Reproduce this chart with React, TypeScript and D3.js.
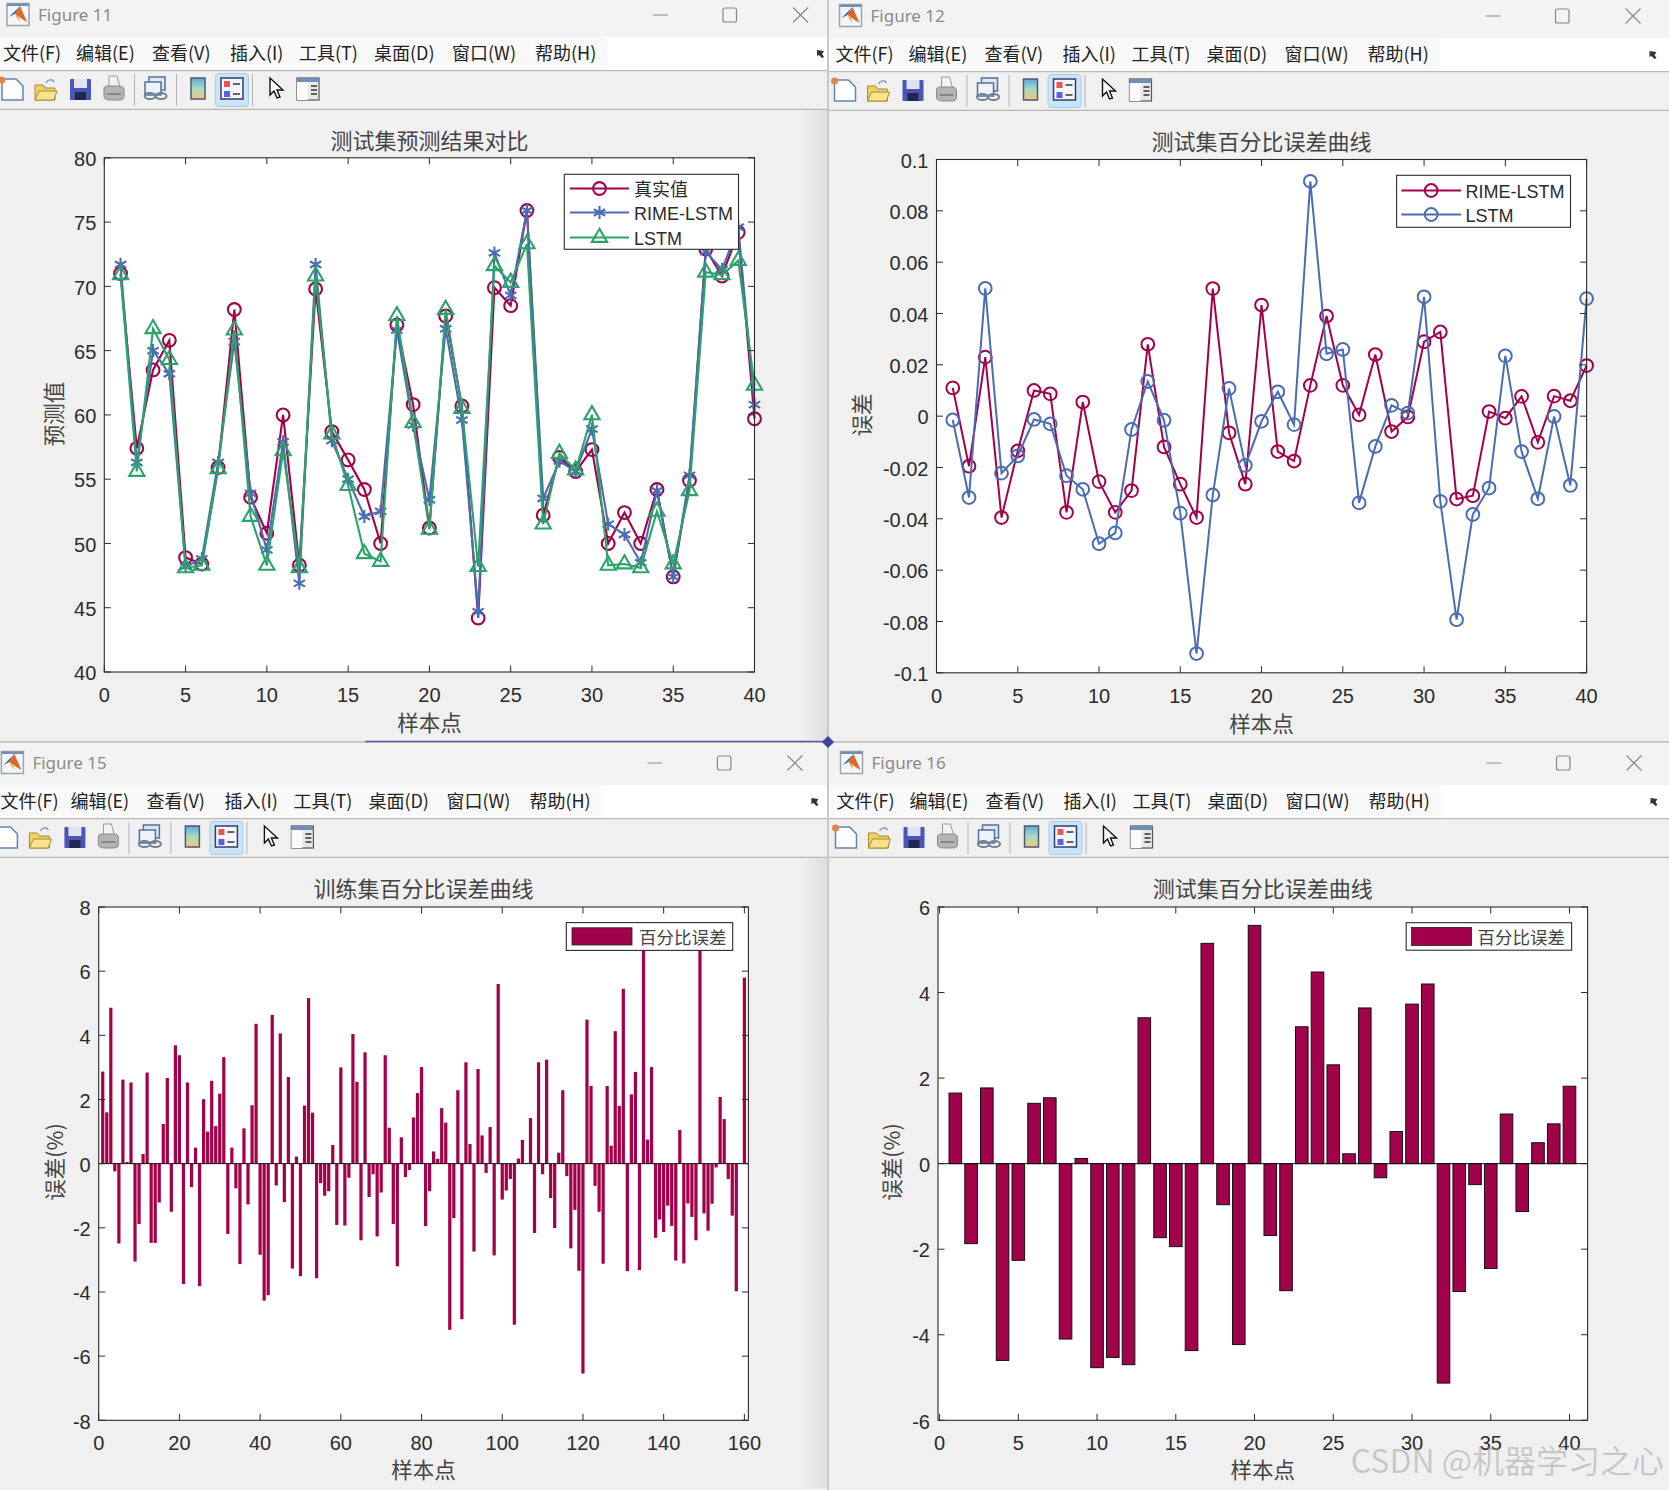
import * as d3 from "d3";

const SANS = "'Liberation Sans', Arial, sans-serif";
const CJK = "'Noto Sans CJK SC', 'Noto Sans', sans-serif";
const RED = "#a2024a";
const BLUE = "#4a6cb3";
const GREEN = "#2ba36b";
const INK = "#2b2b2b";

const MENU_LABELS = ["文件(F)", "编辑(E)", "查看(V)", "插入(I)", "工具(T)", "桌面(D)", "窗口(W)", "帮助(H)"];
const MENU_X = [3, 76, 152, 230, 299, 374, 452, 535];

// Figure 11
const sampleIds = d3.range(1, 41);
const trueValues = [71, 57.4, 63.5, 65.8, 48.9, 48.4, 55.9, 68.2, 53.6, 50.8, 60, 48.3, 69.8, 58.7, 56.5, 54.2, 50, 67, 60.8, 51.2, 67.7, 60.7, 44.2, 69.9, 68.5, 75.9, 52.2, 56.7, 55.6, 57.3, 50, 52.4, 50, 54.2, 47.4, 54.9, 72.9, 70.8, 74.2, 59.7];
const rimeValues = [71.7, 56.3, 65, 63.2, 48.2, 48.8, 56.3, 65.7, 53.9, 49.5, 57.9, 46.9, 71.7, 58, 55, 52.1, 52.5, 66.6, 59.2, 53.4, 66.7, 59.6, 44.7, 72.6, 69.3, 75.9, 53.5, 56.4, 55.6, 58.9, 51.5, 50.7, 48.5, 54.1, 47.4, 55.3, 72.7, 71.3, 74.6, 60.8];
const lstmValues = [70.9, 55.6, 66.7, 64.3, 48.1, 48.3, 55.8, 66.6, 52.1, 48.3, 57.2, 48.1, 70.8, 58.5, 54.5, 49.2, 48.6, 67.7, 59.4, 51.1, 68.2, 60.5, 48.2, 71.6, 70.3, 73.3, 51.5, 57, 55.7, 60, 48.3, 48.4, 48.1, 52.5, 48.4, 54.1, 71.1, 70.9, 72, 62.3];

// Figure 12
const rimeError = [0.011, -0.0195, 0.023, -0.0395, -0.0135, 0.01, 0.0087, -0.0375, 0.0055, -0.0255, -0.0375, -0.029, 0.028, -0.012, -0.0265, -0.0395, 0.0497, -0.0065, -0.0265, 0.0433, -0.0138, -0.0175, 0.012, 0.039, 0.012, 0.0005, 0.024, -0.006, -0.0003, 0.029, 0.0328, -0.0323, -0.031, 0.0018, -0.0008, 0.0077, -0.0102, 0.0078, 0.006, 0.0197];
const lstmError = [-0.0015, -0.0317, 0.0498, -0.0222, -0.0155, -0.0013, -0.003, -0.0232, -0.0285, -0.0497, -0.0455, -0.0052, 0.0135, -0.0016, -0.0378, -0.0925, -0.0307, 0.0108, -0.0192, -0.002, 0.0095, -0.0033, 0.0915, 0.0243, 0.026, -0.0338, -0.0118, 0.0042, 0.0012, 0.0465, -0.0332, -0.0793, -0.0383, -0.028, 0.0235, -0.0138, -0.0322, -0.0001, -0.027, 0.0458];

// Figure 15, samples 1..160
const trainError = [
  2.87, 1.6, 4.86, -0.24, -2.49, 2.62, 0.05, 2.53, -3.05, -1.88,
  0.3, 2.84, -2.47, -2.47, -1.21, 1.24, 2.67, -1.5, 3.69, 3.38,
  -3.75, 2.53, -0.73, 0.5, -3.82, 2.01, 1.0, 2.58, 1.17, 2.18,
  3.32, -2.19, 0.5, -0.77, -3.13, 1.1, -1.27, 1.82, 4.36, -2.84,
  -4.27, -4.1, 4.64, -0.68, 4.06, -1.2, 2.7, -3.27, 0.22, -3.51,
  1.81, 5.16, 1.59, -3.57, -0.61, -1.0, -0.86, 0.58, -1.91, 3.0,
  -1.93, -0.44, 4.04, 2.55, -2.39, 3.47, -1.04, -0.33, -2.27, -0.9,
  3.38, 1.12, -1.88, -3.2, 0.82, -0.42, -0.2, 1.44, 2.2, 3.01,
  -1.95, -0.86, 0.38, 0.15, 1.73, 1.28, -5.18, -1.7, 2.29, -4.85,
  3.16, 0.61, -2.74, 2.95, 0.88, -0.29, 1.14, -2.86, 5.6, -1.12,
  -0.84, -0.48, -5.02, 0.16, 0.74, 0.02, 1.42, -2.16, 3.16, -0.33,
  3.24, -1.07, -2.01, 0.34, 2.29, -0.39, -2.64, -1.44, -3.34, -6.54,
  4.49, 2.42, -0.69, -1.5, -3.12, 2.42, 0.56, 4.13, 1.8, 5.45,
  -3.35, 2.16, 2.86, -3.32, 7.2, 0.75, 3.01, -2.31, -1.74, -2.13,
  -1.31, -1.94, -3.02, 1.05, -3.11, -1.24, -1.66, -2.39, 7.2, -1.55,
  -2.09, -1.25, -0.12, 2.08, 1.39, -0.48, -1.62, -3.98, 0.02, 5.8,
];
const trainIds = d3.range(1, 161);

// Figure 16
const testError = [1.65, -1.87, 1.77, -4.6, -2.26, 1.41, 1.54, -4.1, 0.12, -4.77, -4.53, -4.7, 3.41, -1.73, -1.94, -4.37, 5.15, -0.96, -4.23, 5.57, -1.68, -2.97, 3.2, 4.48, 2.31, 0.23, 3.64, -0.33, 0.75, 3.73, 4.2, -5.13, -2.99, -0.49, -2.45, 1.16, -1.12, 0.49, 0.93, 1.81];

const ticks40 = [0, 5, 10, 15, 20, 25, 30, 35, 40];
const ticks160 = [0, 20, 40, 60, 80, 100, 120, 140, 160];
const ticksPred = [40, 45, 50, 55, 60, 65, 70, 75, 80];
const ticksErr = [-0.1, -0.08, -0.06, -0.04, -0.02, 0, 0.02, 0.04, 0.06, 0.08, 0.1];
const ticksTrain = [-8, -6, -4, -2, 0, 2, 4, 6, 8];
const ticksTest = [-6, -4, -2, 0, 2, 4, 6];

type Box = { left: number; right: number; top: number; bottom: number };

type AxesProps = {
  box: Box;
  x: d3.ScaleLinear<number, number>;
  y: d3.ScaleLinear<number, number>;
  xTicks: number[];
  yTicks: number[];
  title: string;
  ylabel: string;
  ylabelX: number;
  ylabelY: number;
  titleY: number;
  xlabelY: number;
  xTickY: number;
  children: any;
};

// matlab-like box axes, ticks pointing in on all four sides
const Axes = ({ box, x, y, xTicks, yTicks, title, ylabel, ylabelX, ylabelY, titleY, xlabelY, xTickY, children }: AxesProps) => {
  const { left, right, top, bottom } = box;
  const tickLen = 6.5;
  const midX = (left + right) / 2;
  return (
    <g>
      <rect x={left} y={top} width={right - left} height={bottom - top} fill="#fff" />
      {children}
      <rect x={left} y={top} width={right - left} height={bottom - top} fill="none" stroke={INK} strokeWidth={1.1} />
      {xTicks.map((t) => (
        <g key={t}>
          <line x1={x(t)} x2={x(t)} y1={bottom} y2={bottom - tickLen} stroke={INK} />
          <line x1={x(t)} x2={x(t)} y1={top} y2={top + tickLen} stroke={INK} />
          <text x={x(t)} y={xTickY} textAnchor="middle" fontFamily={SANS} fontSize={20} fill={INK}>{t}</text>
        </g>
      ))}
      {yTicks.map((t) => (
        <g key={t}>
          <line x1={left} x2={left + tickLen} y1={y(t)} y2={y(t)} stroke={INK} />
          <line x1={right} x2={right - tickLen} y1={y(t)} y2={y(t)} stroke={INK} />
          <text x={left - 8} y={y(t) + 1} dy="0.36em" textAnchor="end" fontFamily={SANS} fontSize={20} fill={INK}>{t}</text>
        </g>
      ))}
      <text x={midX} y={titleY} dy="0.36em" textAnchor="middle" fontFamily={CJK} fontSize={22} fill="#444">{title}</text>
      <text x={midX} y={xlabelY} dy="0.36em" textAnchor="middle" fontFamily={CJK} fontSize={21.5} fill="#444">样本点</text>
      <text
        transform={`translate(${ylabelX},${ylabelY}) rotate(-90)`}
        dy="0.36em"
        textAnchor="middle"
        fontFamily={CJK}
        fontSize={21.5}
        fill="#444"
      >
        {ylabel}
      </text>
    </g>
  );
};

const markerPath = (type: d3.SymbolType, size: number) => d3.symbol().type(type).size(size)() as string;
const MARKERS: Record<string, string> = {
  circle: markerPath(d3.symbolCircle, 128),
  star: markerPath(d3.symbolAsterisk, 120),
  triangle: markerPath(d3.symbolTriangle, 100),
};

type SeriesProps = {
  ids: number[];
  values: number[];
  x: d3.ScaleLinear<number, number>;
  y: d3.ScaleLinear<number, number>;
  color: string;
  marker: string;
  width: number;
};

const Series = ({ ids, values, x, y, color, marker, width }: SeriesProps) => {
  const line = d3.line<number>().x((_, i) => x(ids[i])).y((d) => y(d));
  return (
    <g fill="none" stroke={color} strokeWidth={width}>
      <path d={line(values) as string} />
      {values.map((v, i) => (
        <path key={i} d={MARKERS[marker]} transform={`translate(${x(ids[i])},${y(v)})`} />
      ))}
    </g>
  );
};

type LegendRow = { label: string; color: string; marker: string };

const LineLegend = ({ x, y, w, h, rows, lineX, textX, rowY, width }: { x: number; y: number; w: number; h: number; rows: LegendRow[]; lineX: number[]; textX: number; rowY: number[]; width: number }) => (
  <g>
    <rect x={x} y={y} width={w} height={h} fill="#fff" stroke={INK} strokeWidth={1.1} />
    {rows.map((r, i) => (
      <g key={r.label}>
        <line x1={lineX[0]} x2={lineX[1]} y1={rowY[i]} y2={rowY[i]} stroke={r.color} strokeWidth={width} />
        <path d={MARKERS[r.marker]} transform={`translate(${(lineX[0] + lineX[1]) / 2},${rowY[i]})`} fill="none" stroke={r.color} strokeWidth={width} />
        <text x={textX} y={rowY[i] + 1} dy="0.36em" fontFamily={/[\u4e00-\u9fff]/.test(r.label) ? CJK : SANS} fontSize={18} fill={INK}>{r.label}</text>
      </g>
    ))}
  </g>
);

const BarLegend = ({ box, patch, textX }: { box: number[]; patch: number[]; textX: number }) => (
  <g>
    <rect x={box[0]} y={box[1]} width={box[2] - box[0]} height={box[3] - box[1]} fill="#fff" stroke={INK} strokeWidth={1.1} />
    <rect x={patch[0]} y={patch[1]} width={patch[2] - patch[0]} height={patch[3] - patch[1]} fill={RED} stroke="#222" strokeWidth={0.8} />
    <text x={textX} y={(box[1] + box[3]) / 2 + 1} dy="0.36em" fontFamily={CJK} fontSize={17.5} fill="#444">百分比误差</text>
  </g>
);

const Bars = ({ ids, values, x, y, edge }: { ids: number[]; values: number[]; x: d3.ScaleLinear<number, number>; y: d3.ScaleLinear<number, number>; edge: string }) => {
  const w = (x(1) - x(0)) * 0.8;
  return (
    <g>
      {values.map((v, i) => (
        <rect
          key={i}
          x={x(ids[i]) - w / 2}
          y={Math.min(y(v), y(0))}
          width={w}
          height={Math.abs(y(v) - y(0))}
          fill={RED}
          stroke={edge}
          strokeWidth={edge === "none" ? 0 : 1}
        />
      ))}
      <line x1={x.range()[0]} x2={x.range()[1]} y1={y(0)} y2={y(0)} stroke="#111" strokeWidth={1} />
    </g>
  );
};

// toolbar glyphs, drawn in window coordinates with the toolbar at y=89
const Toolbar = () => (
  <g>
    <path d="M2 79h14l7 7v14H2z" fill="#fff" stroke="#5f86b5" strokeWidth={1.5} />
    <circle cx={2} cy={80} r={3.5} fill="#e8844a" />
    <path d="M35 100V85h8l2 3h10v12z" fill="#f1d069" stroke="#a98a2c" />
    <path d="M35 100l4-9h18l-3 9z" fill="#f9e28f" stroke="#a98a2c" />
    <path d="M46 83c2-4 6-4 8-1" fill="none" stroke="#7b9cc2" strokeWidth={1.5} />
    <rect x={70} y={79} width={21} height={21} rx={1} fill="#4a55b5" />
    <rect x={74} y={79} width={13} height={9} fill="#dfe3f5" />
    <rect x={75} y={92} width={11} height={8} fill="#20284f" />
    <path d="M109 76h8l3 11h-11z" fill="#f2f2f2" stroke="#999" />
    <path d="M104 89c0-3 3-3 5-3h10c3 0 5 1 5 4v6c0 3-2 4-5 4h-9c-3 0-6-1-6-4z" fill="#b4b4b4" stroke="#888" />
    <path d="M107 94h14" stroke="#777" strokeWidth={1.5} />
    <rect x={149} y={77} width={16} height={13} fill="#dde6f1" stroke="#50729c" strokeWidth={1.5} />
    <rect x={145} y={82} width={16} height={13} fill="#eef3f9" stroke="#50729c" strokeWidth={1.5} />
    <ellipse cx={150} cy={96} rx={5.5} ry={3} fill="none" stroke="#6f7f90" strokeWidth={2} />
    <ellipse cx={161} cy={96} rx={5.5} ry={3} fill="none" stroke="#6f7f90" strokeWidth={2} />
    <line x1={134.5} x2={134.5} y1={74} y2={106} stroke="#b4b4b4" />
    <line x1={176.5} x2={176.5} y1={74} y2={106} stroke="#b4b4b4" />
    <defs>
      <linearGradient id="cbar" x1="0" x2="0" y1="0" y2="1">
        <stop offset="0" stopColor="#5fa8e0" />
        <stop offset="0.5" stopColor="#a9dcc0" />
        <stop offset="1" stopColor="#f3c27a" />
      </linearGradient>
    </defs>
    <rect x={191} y={78} width={14} height={21} fill="url(#cbar)" stroke="#4c5a70" strokeWidth={1.5} />
    <rect x={215.5} y={73.5} width={33} height={33} rx={3} fill="#cce4f7" stroke="#a6cdea" />
    <rect x={221} y={78} width={22} height={21} fill="#f4f6fa" stroke="#2f3f6b" strokeWidth={1.5} />
    <rect x={224} y={81} width={6} height={6} fill="#e9565a" />
    <rect x={224} y={91} width={6} height={6} fill="#5a62e0" />
    <line x1={233} x2={240} y1={84} y2={84} stroke="#333" strokeWidth={1.5} />
    <line x1={233} x2={240} y1={94} y2={94} stroke="#333" strokeWidth={1.5} />
    <line x1={252.5} x2={252.5} y1={74} y2={106} stroke="#b4b4b4" />
    <path d="M270 78l0 17 4-4 3 7 3-1-3-7h6z" fill="#fff" stroke="#111" strokeWidth={1.4} />
    <rect x={297} y={78} width={22} height={22} fill="#e8e8e8" stroke="#555" strokeWidth={1.2} />
    <rect x={297} y={78} width={22} height={4} fill="#6f8fb5" />
    <rect x={297} y={82} width={11} height={18} fill="#fbfbfb" />
    <path d="M311 86h6M311 90h6M311 94h6" stroke="#333" strokeWidth={1.4} />
  </g>
);

const Logo = () => (
  <g>
    <rect x={7} y={3.5} width={22} height={22} fill="#f5f6f8" stroke="#9aa6b2" strokeWidth={1.5} />
    <rect x={7} y={3.5} width={22} height={2.5} fill="#6f8fb5" />
    <path d="M9 17l6-3 5-8z" fill="#2d6fb0" />
    <path d="M20 6l7 16-5-3-4-3-3-2z" fill="#e0662a" />
    <path d="M15 14l3 2 2 6-3-4z" fill="#f0a03c" />
  </g>
);

// title bar, menu strip and toolbar of one figure window
const WindowFrame = ({ clipId, rect, dx, dy, name }: { clipId: string; rect: number[]; dx: number; dy: number; name: string }) => (
  <g>
    <clipPath id={clipId}>
      <rect x={rect[0]} y={rect[1]} width={rect[2]} height={rect[3]} rx={6} />
    </clipPath>
    <g clipPath={`url(#${clipId})`}>
      <rect x={rect[0]} y={rect[1]} width={rect[2]} height={rect[3]} fill="#f0f0f0" />
      <g transform={`translate(${dx},${dy})`}>
        <rect x={-10} y={-10} width={860} height={47} fill="#f3f3f3" />
        <rect x={-10} y={37} width={860} height={33.5} fill="#fff" />
        <rect x={-10} y={37} width={617} height={33.5} fill="#f9f9f9" />
        <line x1={-10} x2={850} y1={70.7} y2={70.7} stroke="#a9a9a9" />
        <line x1={-10} x2={850} y1={109.3} y2={109.3} stroke="#ababab" />
        <Logo />
        <text x={38} y={15} dy="0.36em" fontFamily="'Noto Sans', sans-serif" fontSize={17} fill="#8a8a8a">{name}</text>
        <line x1={653} x2={668} y1={15} y2={15} stroke="#999" strokeWidth={1.2} />
        <rect x={723} y={8} width={13.5} height={14} rx={2} fill="none" stroke="#888" strokeWidth={1.2} />
        <path d="M793 7.5l15 15M808 7.5l-15 15" stroke="#888" strokeWidth={1.2} />
        <path d="M817 50l7 1-2 3 2 3-2 1-3-3-2 1z" fill="#333" />
        {MENU_LABELS.map((m, i) => (
          <text key={m} x={Math.max(MENU_X[i], -dx + 0.5)} y={53.5} dy="0.36em" fontFamily={CJK} fontSize={18} fill="#222">{m}</text>
        ))}
        <Toolbar />
      </g>
    </g>
  </g>
);

const BOX_11: Box = { left: 104.3, right: 754.5, top: 157.8, bottom: 672 };
const BOX_12: Box = { left: 936.5, right: 1586.6, top: 159.5, bottom: 672.8 };
const BOX_15: Box = { left: 98.7, right: 748.4, top: 907, bottom: 1420.3 };
const BOX_16: Box = { left: 938, right: 1587.6, top: 907, bottom: 1420.3 };

const makeX = (b: Box, domain: number[]) => d3.scaleLinear().domain(domain).range([b.left, b.right]);
const makeY = (b: Box, domain: number[]) => d3.scaleLinear().domain(domain).range([b.bottom, b.top]);

export default function App() {
  const x11 = makeX(BOX_11, [0, 40]);
  const y11 = makeY(BOX_11, [40, 80]);
  const x12 = makeX(BOX_12, [0, 40]);
  const y12 = makeY(BOX_12, [-0.1, 0.1]);
  const x15 = makeX(BOX_15, [0, 161]);
  const y15 = makeY(BOX_15, [-8, 8]);
  const x16 = makeX(BOX_16, [-0.1, 41.15]);
  const y16 = makeY(BOX_16, [-6, 6]);

  return (
    <svg width={1669} height={1490} viewBox="0 0 1669 1490" style={{ position: "absolute", left: 0, top: 0, display: "block" }}>
      <defs>
        <linearGradient id="edgeShade" x1="0" x2="1" y1="0" y2="0">
          <stop offset="0" stopColor="#000" stopOpacity={0} />
          <stop offset="1" stopColor="#000" stopOpacity={0.07} />
        </linearGradient>
      </defs>
      <rect width={1669} height={1490} fill="#c9c9c9" />

      <WindowFrame clipId="w11" rect={[-10, -10, 837, 751]} dx={0} dy={0} name="Figure 11" />
      <WindowFrame clipId="w12" rect={[829, -10, 850, 751]} dx={832.5} dy={1} name="Figure 12" />
      <WindowFrame clipId="w15" rect={[-10, 743, 837, 757]} dx={-5.6} dy={748} name="Figure 15" />
      <WindowFrame clipId="w16" rect={[829, 743, 850, 757]} dx={833.5} dy={748} name="Figure 16" />

      <rect x={800} y={110} width={27} height={630} fill="url(#edgeShade)" />
      <rect x={800} y={858} width={27} height={630} fill="url(#edgeShade)" />
      <line x1={365} x2={829} y1={741.5} y2={741.5} stroke="#565b9c" strokeWidth={1.5} />
      <path d="M828 736l6 6-6 6-6-6z" fill="#3f4596" />

      <Axes box={BOX_11} x={x11} y={y11} xTicks={ticks40} yTicks={ticksPred} title="测试集预测结果对比" ylabel="预测值" ylabelX={54} ylabelY={414} titleY={141.5} xlabelY={723} xTickY={702}>
        <Series ids={sampleIds} values={trueValues} x={x11} y={y11} color={RED} marker="circle" width={2.1} />
        <Series ids={sampleIds} values={rimeValues} x={x11} y={y11} color={BLUE} marker="star" width={2.1} />
        <Series ids={sampleIds} values={lstmValues} x={x11} y={y11} color={GREEN} marker="triangle" width={2.1} />
      </Axes>
      <LineLegend
        x={564.3}
        y={174.3}
        w={174.2}
        h={75}
        rows={[
          { label: "真实值", color: RED, marker: "circle" },
          { label: "RIME-LSTM", color: BLUE, marker: "star" },
          { label: "LSTM", color: GREEN, marker: "triangle" },
        ]}
        lineX={[570, 629]}
        textX={634}
        rowY={[188.5, 212.5, 237.5]}
        width={2.1}
      />

      <Axes box={BOX_12} x={x12} y={y12} xTicks={ticks40} yTicks={ticksErr} title="测试集百分比误差曲线" ylabel="误差" ylabelX={862} ylabelY={415} titleY={142.5} xlabelY={724} xTickY={703}>
        <Series ids={sampleIds} values={rimeError} x={x12} y={y12} color={RED} marker="circle" width={2} />
        <Series ids={sampleIds} values={lstmError} x={x12} y={y12} color={BLUE} marker="circle" width={2} />
      </Axes>
      <LineLegend
        x={1396.6}
        y={175.3}
        w={173.9}
        h={52}
        rows={[
          { label: "RIME-LSTM", color: RED, marker: "circle" },
          { label: "LSTM", color: BLUE, marker: "circle" },
        ]}
        lineX={[1401.4, 1461]}
        textX={1465.6}
        rowY={[190.5, 214.5]}
        width={2}
      />

      <Axes box={BOX_15} x={x15} y={y15} xTicks={ticks160} yTicks={ticksTrain} title="训练集百分比误差曲线" ylabel="误差(%)" ylabelX={55} ylabelY={1162} titleY={889.5} xlabelY={1470.5} xTickY={1450}>
        <Bars ids={trainIds} values={trainError} x={x15} y={y15} edge="none" />
      </Axes>
      <BarLegend box={[566.3, 922.6, 732.7, 950.4]} patch={[572, 927.8, 632, 945]} textX={639} />

      <Axes box={BOX_16} x={x16} y={y16} xTicks={ticks40} yTicks={ticksTest} title="测试集百分比误差曲线" ylabel="误差(%)" ylabelX={892} ylabelY={1162} titleY={889.5} xlabelY={1470.5} xTickY={1450}>
        <Bars ids={sampleIds} values={testError} x={x16} y={y16} edge="#111" />
      </Axes>
      <BarLegend box={[1406.2, 922.7, 1571.6, 950.2]} patch={[1411.6, 927.4, 1471.5, 945.5]} textX={1477.4} />

      <text x={1664} y={1461} dy="0.36em" textAnchor="end" fontFamily={CJK} fontSize={32} fill="#8c8c8c" fillOpacity={0.45} stroke="#fff" strokeOpacity={0.3} strokeWidth={0.6}>CSDN @机器学习之心</text>
    </svg>
  );
}
